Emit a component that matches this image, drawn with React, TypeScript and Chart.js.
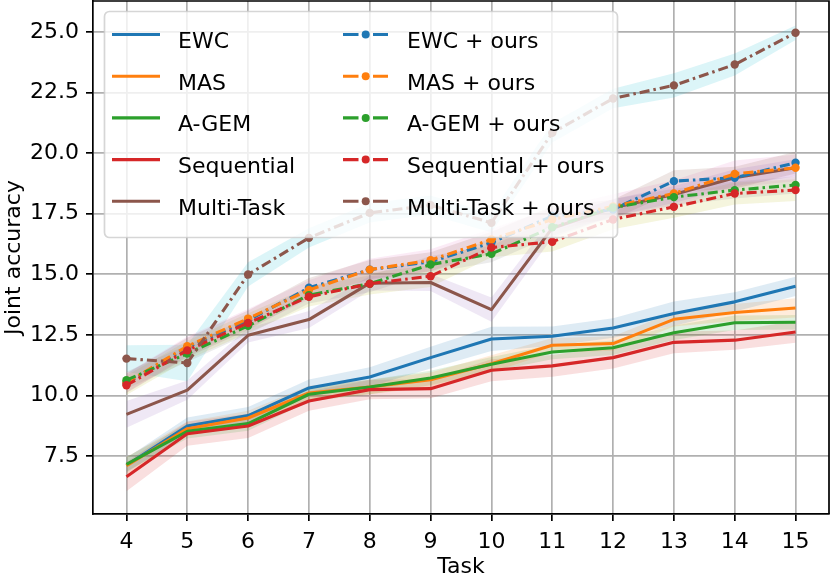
import { useEffect, useRef } from "react";
import { Chart, registerables } from "chart.js";

Chart.register(...registerables);

// x positions (tasks) and y tick values
const TASKS = [4, 5, 6, 7, 8, 9, 10, 11, 12, 13, 14, 15];
const Y_TICKS = [7.5, 10.0, 12.5, 15.0, 17.5, 20.0, 22.5, 25.0];

// baselines (solid)
const EWC = [7.12, 8.74, 9.17, 10.31, 10.76, 11.56, 12.33, 12.44, 12.78, 13.38, 13.86, 14.5];
const MAS = [7.1, 8.63, 9.07, 10.1, 10.35, 10.65, 11.31, 12.07, 12.14, 13.14, 13.42, 13.61];
const AGEM = [7.16, 8.52, 8.84, 10.05, 10.35, 10.72, 11.29, 11.79, 11.97, 12.59, 13.0, 13.02];
const SEQ = [6.65, 8.42, 8.74, 9.77, 10.24, 10.28, 11.04, 11.22, 11.56, 12.19, 12.28, 12.62];
const MT = [9.22, 10.22, 12.48, 13.13, 14.63, 14.66, 13.54, 16.9, 17.74, 18.29, 18.98, 19.39];

// + ours (dash-dot with markers)
const EWC_OURS = [10.5, 11.98, 13.1, 14.44, 15.19, 15.51, 16.3, 17.4, 17.67, 18.84, 18.98, 19.6];
const MAS_OURS = [10.52, 12.03, 13.17, 14.35, 15.19, 15.58, 16.43, 17.26, 17.8, 18.33, 19.14, 19.39];
const AGEM_OURS = [10.63, 11.73, 12.87, 14.14, 14.61, 15.4, 15.84, 16.94, 17.75, 18.18, 18.47, 18.68];
const SEQ_OURS = [10.42, 11.86, 12.99, 14.07, 14.61, 14.92, 16.1, 16.34, 17.26, 17.78, 18.33, 18.47];
const MT_OURS = [11.52, 11.34, 14.99, 16.5, 17.53, 17.85, 17.12, 20.83, 22.25, 22.79, 23.65, 24.96];

// half-width of the shaded bands
const EWC_SD = [0.3, 0.35, 0.35, 0.35, 0.4, 0.45, 0.5, 0.4, 0.4, 0.5, 0.4, 0.4];
const MAS_SD = [0.35, 0.3, 0.3, 0.3, 0.3, 0.3, 0.35, 0.3, 0.3, 0.3, 0.35, 0.4];
const AGEM_SD = [0.3, 0.3, 0.3, 0.3, 0.3, 0.3, 0.3, 0.3, 0.3, 0.3, 0.3, 0.3];
const SEQ_SD = [0.6, 0.5, 0.5, 0.4, 0.4, 0.4, 0.45, 0.45, 0.45, 0.45, 0.4, 0.45];
const MT_SD = [0.55, 0.4, 0.3, 0.35, 0.3, 0.35, 0.5, 0.4, 0.35, 0.35, 0.35, 0.35];
const EWC_OURS_SD = [0.4, 0.4, 0.4, 0.4, 0.4, 0.4, 0.45, 0.4, 0.4, 0.45, 0.45, 0.45];
const MAS_OURS_SD = [0.4, 0.4, 0.4, 0.4, 0.45, 0.45, 0.45, 0.45, 0.5, 0.55, 0.55, 0.55];
const AGEM_OURS_SD = [0.35, 0.35, 0.35, 0.35, 0.35, 0.35, 0.35, 0.35, 0.35, 0.35, 0.35, 0.35];
const SEQ_OURS_SD = [0.4, 0.4, 0.4, 0.4, 0.45, 0.45, 0.4, 0.4, 0.4, 0.45, 0.45, 0.45];
const MT_OURS_SD = [0.55, 0.75, 0.5, 0.4, 0.4, 0.4, 0.4, 0.4, 0.4, 0.5, 0.45, 0.3];

const TAB = ["#1f77b4", "#ff7f0e", "#2ca02c", "#d62728", "#9467bd", "#8c564b", "#e377c2", "#7f7f7f", "#bcbd22", "#17becf"];

type Series = { label: string; values: number[]; sd: number[]; color: string; band: string; ours: boolean };

const SERIES: Series[] = [
  { label: "EWC", values: EWC, sd: EWC_SD, color: TAB[0], band: TAB[0], ours: false },
  { label: "MAS", values: MAS, sd: MAS_SD, color: TAB[1], band: TAB[1], ours: false },
  { label: "A-GEM", values: AGEM, sd: AGEM_SD, color: TAB[2], band: TAB[2], ours: false },
  { label: "Sequential", values: SEQ, sd: SEQ_SD, color: TAB[3], band: TAB[3], ours: false },
  { label: "Multi-Task", values: MT, sd: MT_SD, color: TAB[5], band: TAB[4], ours: false },
  { label: "EWC + ours", values: EWC_OURS, sd: EWC_OURS_SD, color: TAB[0], band: TAB[5], ours: true },
  { label: "MAS + ours", values: MAS_OURS, sd: MAS_OURS_SD, color: TAB[1], band: TAB[6], ours: true },
  { label: "A-GEM + ours", values: AGEM_OURS, sd: AGEM_OURS_SD, color: TAB[2], band: TAB[7], ours: true },
  { label: "Sequential + ours", values: SEQ_OURS, sd: SEQ_OURS_SD, color: TAB[3], band: TAB[8], ours: true },
  { label: "Multi-Task + ours", values: MT_OURS, sd: MT_OURS_SD, color: TAB[5], band: TAB[9], ours: true },
];

const FONT = "'DejaVu Sans', sans-serif";
const DASHDOT = [10, 4, 2.5, 4];
const LW = 3.1;

function alpha(hex: string, a: number) {
  const n = parseInt(hex.slice(1), 16);
  return `rgba(${(n >> 16) & 255},${(n >> 8) & 255},${n & 255},${a})`;
}

// top/right spines + matplotlib-style legend box
const framePlugin = {
  id: "frame",
  afterDraw(chart: Chart) {
    const { ctx, chartArea: ca } = chart;
    ctx.save();
    ctx.strokeStyle = "#000";
    ctx.lineWidth = 1.7;
    ctx.beginPath();
    ctx.moveTo(ca.left, ca.top);
    ctx.lineTo(ca.right, ca.top);
    ctx.lineTo(ca.right, ca.bottom);
    ctx.stroke();

    const bx = ca.left + 11.5;
    const by = ca.top + 10.5;
    ctx.beginPath();
    ctx.roundRect(bx, by, 513, 226, 5);
    ctx.fillStyle = "rgba(255,255,255,0.8)";
    ctx.fill();
    ctx.strokeStyle = "rgba(204,204,204,0.8)";
    ctx.lineWidth = 1.7;
    ctx.stroke();

    ctx.font = `22px ${FONT}`;
    ctx.textBaseline = "alphabetic";
    ctx.fillStyle = "#000";
    SERIES.forEach((s, i) => {
      const col = s.ours ? 1 : 0;
      const row = i % 5;
      const y = ca.top + 33.5 + row * 41.7;
      const hx = ca.left + (col ? 250 : 19);
      ctx.strokeStyle = s.color;
      ctx.lineWidth = LW;
      ctx.setLineDash([]);
      ctx.beginPath();
      if (s.ours) {
        ctx.moveTo(hx, y);
        ctx.lineTo(hx + 15.5, y);
        ctx.moveTo(hx + 30, y);
        ctx.lineTo(hx + 45, y);
        ctx.stroke();
        ctx.beginPath();
        ctx.arc(hx + 22.7, y, 4, 0, Math.PI * 2);
        ctx.fillStyle = s.color;
        ctx.fill();
      } else {
        ctx.moveTo(hx, y);
        ctx.lineTo(hx + 48, y);
        ctx.stroke();
      }
      ctx.fillStyle = "#000";
      ctx.fillText(s.label, ca.left + (col ? 314 : 85), y + 13.5);
    });
    ctx.restore();
  },
};

export default function App() {
  const canvasRef = useRef<HTMLCanvasElement>(null);

  useEffect(() => {
    const canvas = canvasRef.current;
    if (!canvas) return;

    const bands: any[] = [];
    SERIES.forEach((s, i) => {
      bands.push({
        label: s.label + " hi",
        data: TASKS.map((t, k) => ({ x: t, y: s.values[k] + s.sd[k] })),
        borderWidth: 0,
        borderColor: "transparent",
        pointRadius: 0,
        fill: false,
        order: 100,
      });
      bands.push({
        label: s.label + " lo",
        data: TASKS.map((t, k) => ({ x: t, y: s.values[k] - s.sd[k] })),
        borderWidth: 0,
        borderColor: "transparent",
        pointRadius: 0,
        fill: { target: 2 * i },
        backgroundColor: alpha(s.band, 0.15),
        order: 100,
      });
    });

    const lines = SERIES.map((s, i) => ({
      label: s.label,
      data: TASKS.map((t, k) => ({ x: t, y: s.values[k] })),
      borderColor: s.color,
      backgroundColor: s.color,
      borderWidth: LW,
      borderDash: s.ours ? DASHDOT : [],
      borderJoinStyle: "round" as const,
      pointRadius: s.ours ? 4.2 : 0,
      pointBorderWidth: 0,
      pointBackgroundColor: s.color,
      fill: false,
      tension: 0,
      order: 50 - i,
    }));

    const tickFont = { family: FONT, size: 22 };

    const chart = new Chart(canvas, {
      type: "line",
      data: { datasets: [...bands, ...lines] },
      plugins: [framePlugin],
      options: {
        animation: false,
        responsive: true,
        maintainAspectRatio: false,
        layout: { autoPadding: false, padding: { top: 1, right: 1, left: 0, bottom: 0 } },
        plugins: { legend: { display: false }, tooltip: { enabled: false } },
        scales: {
          x: {
            type: "linear",
            min: 3.45,
            max: 15.55,
            afterBuildTicks: (s: any) => {
              s.ticks = TASKS.map((v) => ({ value: v }));
            },
            afterFit: (s: any) => {
              s.height = 64;
              s.paddingLeft = 0;
              s.paddingRight = 0;
            },
            ticks: { font: tickFont, color: "#000", padding: 8, maxRotation: 0, callback: (v: any) => String(v) },
            grid: { color: "#b0b0b0", lineWidth: 1.7, tickLength: 7, tickColor: "#000", tickWidth: 1.7 },
            border: { color: "#000", width: 1.7 },
            title: {
              display: true,
              text: "Task",
              font: { family: FONT, size: 22, lineHeight: 1.0 },
              color: "#000",
              padding: { top: 0, bottom: 0 },
            },
          },
          y: {
            type: "linear",
            min: 5.11,
            max: 26.27,
            afterBuildTicks: (s: any) => {
              s.ticks = Y_TICKS.map((v) => ({ value: v }));
            },
            afterFit: (s: any) => {
              s.width = 93;
              s.paddingTop = 0;
              s.paddingBottom = 0;
            },
            ticks: { font: tickFont, color: "#000", padding: 7, callback: (v: any) => Number(v).toFixed(1) },
            grid: { color: "#b0b0b0", lineWidth: 1.7, tickLength: 7, tickColor: "#000", tickWidth: 1.7 },
            border: { color: "#000", width: 1.7 },
            title: { display: true, text: "Joint accuracy", font: tickFont, color: "#000", padding: { top: 1, bottom: 0 } },
          },
        },
      },
    });

    return () => chart.destroy();
  }, []);

  return (
    <div style={{ position: "absolute", left: 0, top: 0, width: 830, height: 578, background: "#fff" }}>
      <canvas ref={canvasRef} />
    </div>
  );
}
